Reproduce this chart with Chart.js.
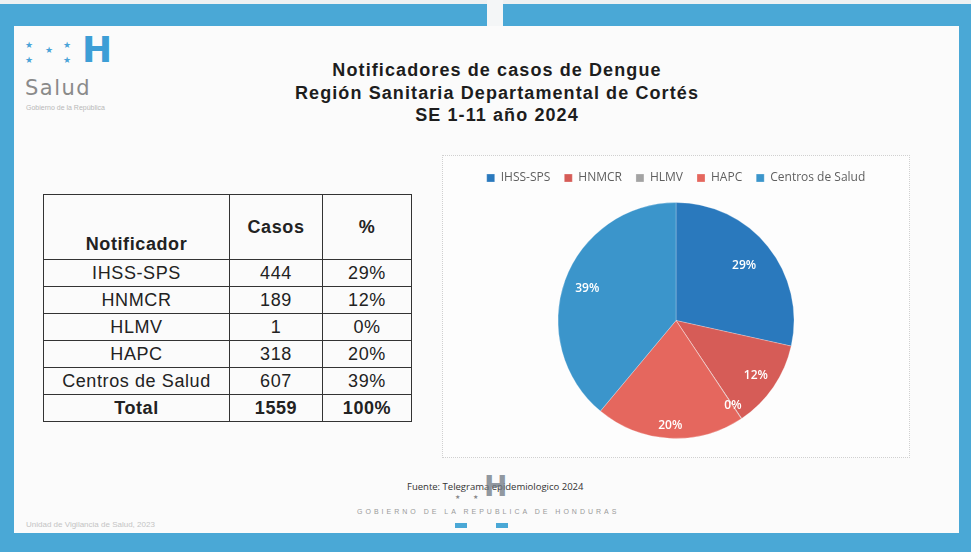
<!DOCTYPE html>
<html>
<head>
<meta charset="utf-8">
<script src="https://cdn.jsdelivr.net/npm/chart.js@4.4.1/dist/chart.umd.min.js"></script>
<style>
  html, body { margin: 0; padding: 0; background: #fff; }
  #slide {
    position: relative; width: 971px; height: 552px; overflow: hidden;
    background: #4aa8d6; font-family: "Liberation Sans", Arial, sans-serif;
  }
  #hoja {
    position: absolute; left: 14px; top: 26px; width: 945px; height: 507px;
    background: #fbfbfb;
  }
  #corte {
    position: absolute; left: 487px; top: 0; width: 16px; height: 26px; background: #f4f6f7;
  }
  #franja { position: absolute; left: 0; top: 0; width: 971px; height: 4px; background: #eef1f2; }
  .titulo {
    position: absolute; left: 197px; top: 59px; width: 600px; text-align: center;
    font-weight: bold; font-size: 18px; line-height: 22.5px; color: #1d1d1d; letter-spacing: 1.1px;
  }
  #logo-h {
    position: absolute; left: 82px; top: 32px; font-family: "DejaVu Sans", sans-serif;
    font-weight: bold; font-size: 36px; color: #3d9ed6; line-height: 36px;
  }
  .estrella { position: absolute; color: #4aa3d8; font-size: 9px; line-height: 9px; }
  #logo-salud {
    position: absolute; left: 25px; top: 76px; font-family: "DejaVu Sans", sans-serif;
    font-size: 21px; color: #8a8a8a; letter-spacing: 1.5px;
  }
  #logo-gob { position: absolute; left: 26px; top: 104px; font-size: 7px; color: #b8b8b8; }
  table#tabla {
    position: absolute; left: 43px; top: 194px; border-collapse: collapse;
    font-size: 18px; color: #222; letter-spacing: 0.6px;
  }
  #tabla td, #tabla th { border: 1.5px solid #333; text-align: center; padding: 0; height: 26px; }
  #tabla th { font-weight: bold; }
  #tabla tr.cab th { height: 60px; }
  #tabla tr.total td { font-weight: bold; }
  #grafico {
    position: absolute; left: 442px; top: 155px; width: 466px; height: 301px;
    border: 1px dotted #d0d0d0; background: #fdfdfd;
  }
  #fuente { position: absolute; left: 407px; top: 480px; font-size: 9.5px; color: #333; font-family: "Open Sans", sans-serif; }
  #pie-h {
    position: absolute; left: 484px; top: 473px; font-family: "DejaVu Sans", sans-serif;
    font-weight: bold; font-size: 28px; color: rgba(110,120,130,0.75); line-height: 28px;
  }
  #gobierno {
    position: absolute; left: 357px; top: 508px; font-size: 7px; letter-spacing: 3px; color: #9a9a9a;
  }
  #unidad { position: absolute; left: 26px; top: 520px; font-size: 8px; color: #c4c4c4; }
  .marca { position: absolute; top: 523px; width: 12px; height: 5px; background: #4aa8d6; }
</style>
</head>
<body>
<div id="slide">
  <div id="franja"></div>
  <div id="corte"></div>
  <div id="hoja"></div>

  <span class="estrella" style="left:25px;top:41px">★</span>
  <span class="estrella" style="left:45px;top:46px">★</span>
  <span class="estrella" style="left:63px;top:41px">★</span>
  <span class="estrella" style="left:25px;top:56px">★</span>
  <span class="estrella" style="left:63px;top:56px">★</span>
  <div id="logo-h">H</div>
  <div id="logo-salud">Salud</div>
  <div id="logo-gob">Gobierno de la República</div>

  <div class="titulo">Notificadores de casos de Dengue<br>Región Sanitaria Departamental de Cortés<br>SE 1-11 año 2024</div>

  <table id="tabla"></table>

  <div id="grafico"><canvas id="pastel"></canvas></div>

  <div id="fuente">Fuente: Telegrama epidemiologico 2024</div>
  <div id="pie-h">H</div>
  <span class="estrella" style="left:455px;top:493px;color:#888;font-size:6px">★</span>
  <span class="estrella" style="left:473px;top:493px;color:#888;font-size:6px">★</span>
  <div id="gobierno">GOBIERNO DE LA REPUBLICA DE HONDURAS</div>
  <div class="marca" style="left:455px"></div>
  <div class="marca" style="left:496px"></div>
  <div id="unidad">Unidad de Vigilancia de Salud, 2023</div>
</div>

<script>
// Datos
const notificadores = ['IHSS-SPS', 'HNMCR', 'HLMV', 'HAPC', 'Centros de Salud'];
const casos = [444, 189, 1, 318, 607];
const porcentajes = [29, 12, 0, 20, 39];
const total = 1559;
const totalPorc = 100;
const colores = ['#2a79bd', '#d65c57', '#a3a3a3', '#e5675e', '#3b95cb'];

// Tabla
const tabla = document.getElementById('tabla');
let filas = `
  <tr class="cab">
    <th style="width:185px;vertical-align:bottom;padding-bottom:4px">Notificador</th>
    <th style="width:92px">Casos</th>
    <th style="width:88px">%</th>
  </tr>`;
notificadores.forEach((n, i) => {
  filas += `<tr><td>${n}</td><td>${casos[i]}</td><td>${porcentajes[i]}%</td></tr>`;
});
filas += `<tr class="total"><td>Total</td><td>${total}</td><td>${totalPorc}%</td></tr>`;
tabla.innerHTML = filas;

// Etiquetas de porcentaje dentro del pastel
const distEtiqueta = [0.74, 0.82, 0.87, 0.89, 0.8];
const etiquetas = {
  id: 'etiquetas',
  afterDatasetsDraw(chart) {
    const ctx = chart.ctx;
    const meta = chart.getDatasetMeta(0);
    ctx.save();
    ctx.font = '600 12px "Open Sans"';
    ctx.fillStyle = '#fff';
    ctx.textAlign = 'center';
    ctx.textBaseline = 'middle';
    meta.data.forEach((arc, i) => {
      const p = arc.getProps(['x', 'y', 'startAngle', 'endAngle', 'outerRadius'], true);
      const ang = (p.startAngle + p.endAngle) / 2;
      const r = p.outerRadius * distEtiqueta[i];
      ctx.fillText(porcentajes[i] + '%', p.x + Math.cos(ang) * r, p.y + Math.sin(ang) * r);
    });
    ctx.restore();
  }
};

// Gráfico
let ctx = document.getElementById('pastel').getContext('2d');
let grafico = new Chart(ctx, {
  type: 'pie',
  data: {
    labels: notificadores,
    datasets: [{
      data: casos,
      backgroundColor: colores,
      borderColor: 'rgba(255,255,255,0.25)',
      borderWidth: 1,
      radius: 118
    }]
  },
  options: {
    responsive: true,
    maintainAspectRatio: false,
    animation: false,
    layout: { padding: { top: 2, bottom: 10 } },
    plugins: {
      legend: {
        position: 'top',
        labels: {
          boxWidth: 8,
          boxHeight: 8,
          padding: 14,
          color: '#5f5f5f',
          font: { family: 'Open Sans', size: 12 }
        }
      },
      tooltip: { enabled: false }
    }
  },
  plugins: [etiquetas]
});
</script>
</body>
</html>
